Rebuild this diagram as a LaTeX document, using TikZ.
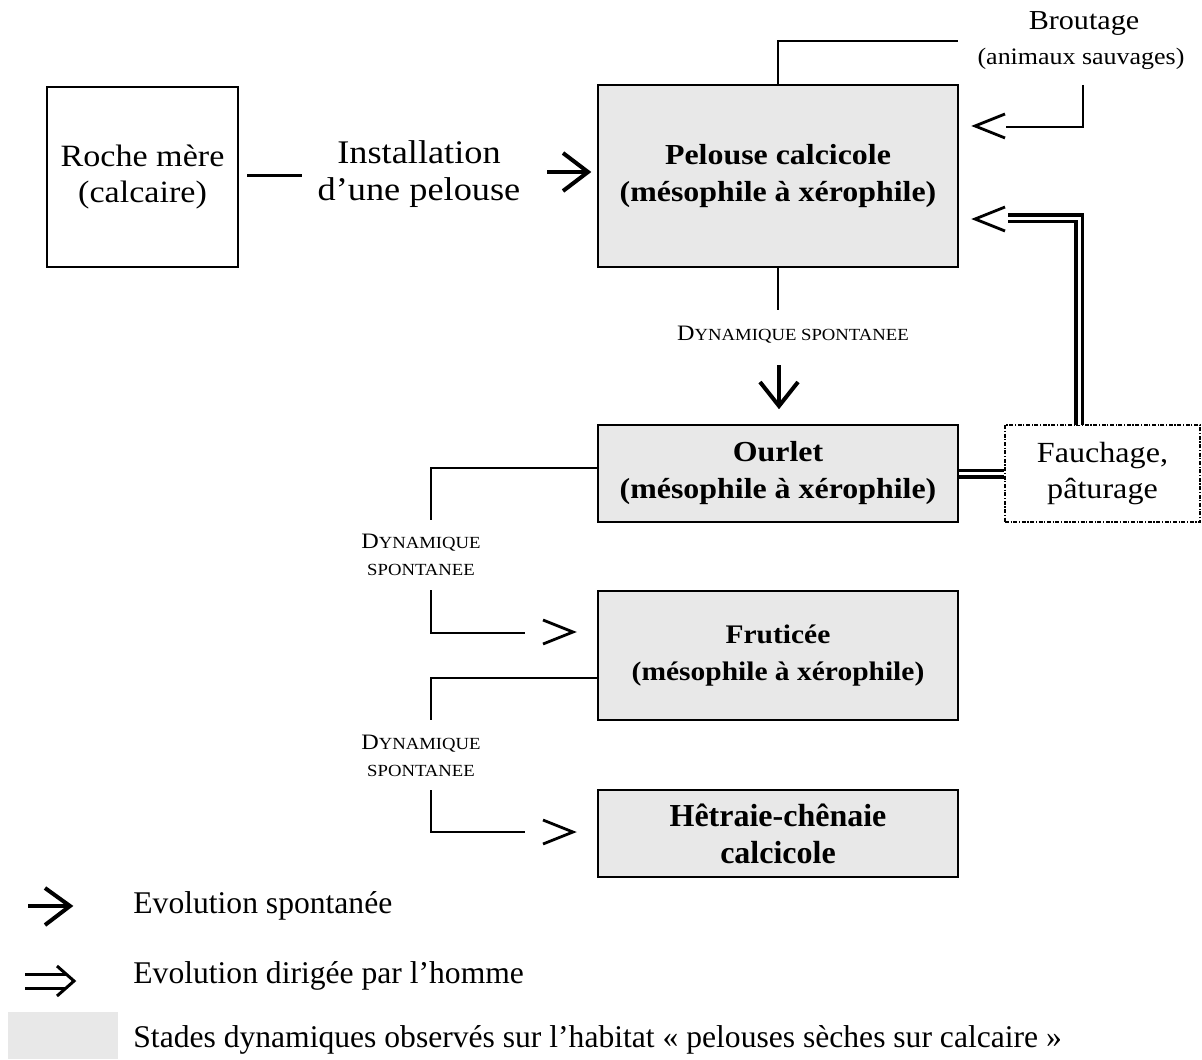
\documentclass[tikz,border=0pt]{standalone}
\usepackage{fontspec}
\setmainfont{Liberation Serif}
\newfontfamily\wf{Liberation Serif}[FakeStretch=1.1]
\definecolor{boxgray}{RGB}{232,232,232}
\newcommand\Dyn{{\fontsize{11}{13.5}\selectfont D}YNAMIQUE}
\tikzset{
  stage/.style={draw, line width=1pt, fill=boxgray, minimum width=180pt, align=center, inner sep=0pt, font=\wf\bfseries\fontsize{14.5}{18.5}\selectfont},
  plainbox/.style={draw, line width=1pt, fill=white, align=center, inner sep=0pt, font=\wf\fontsize{15.5}{18}\selectfont},
  conn/.style={line width=1pt},
  dbl/.style={double=white, double distance=1.5pt, line width=1.75pt},
  openhead/.style={line width=1.4pt},
  bighead/.style={line width=2pt},
  lbl/.style={align=center, inner sep=0pt, font=\wf\fontsize{15.5}{18}\selectfont},
  dyn/.style={align=center, inner sep=0pt, font=\wf\fontsize{8.5}{13.5}\selectfont},
  legend/.style={anchor=west, inner sep=0pt, font=\fontsize{15.8}{18}\selectfont},
}
\begin{document}
\begin{tikzpicture}[x=0.5pt, y=-0.5pt]
\useasboundingbox (0,0) rectangle (1202,1059);

% boxes
\node[plainbox, minimum width=95.5pt, minimum height=90pt] (roche) at (142.5,177) {Roche mère\\(calcaire)};
\node[stage, minimum height=91pt] (pel) at (778,176) {Pelouse calcicole\\(mésophile à xérophile)};
\node[stage, minimum height=48.5pt] (ourlet) at (778,473.5) {Ourlet\\(mésophile à xérophile)};
\node[stage, minimum height=64.5pt, font=\wf\bfseries\fontsize{13.4}{18.5}\selectfont] (frut) at (778,655.5) {Fruticée\\(mésophile à xérophile)};
\node[stage, minimum height=43.5pt, font=\bfseries\fontsize{16}{18.5}\selectfont] (hetre) at (778,833.5) {Hêtraie-chênaie\\calcicole};
\node[plainbox, draw, dash pattern=on 2pt off 0.8pt on 0.6pt off 0.8pt, minimum width=97.5pt, minimum height=48.5pt, font=\wf\fontsize{14.6}{18}\selectfont] (fauch) at (1102.5,473.5) {Fauchage,\\pâturage};

% Roche -> Pelouse
\coordinate (d1) at (247,176);
\coordinate (d2) at (302,176);
\draw[line width=1.5pt] (d1) -- (d2);
\node[lbl, font=\wf\fontsize{16.5}{18.5}\selectfont] (inst) at (419,174) {Installation\\d’une pelouse};
\coordinate (a1) at (547,172);
\coordinate (a1t) at (588,172);
\draw[bighead] (a1) -- (a1t);
\draw[bighead] (563,153) -- (a1t) -- (563,191);

% Broutage
\node[inner sep=0pt, font=\wf\fontsize{13.7}{16}\selectfont] (brout) at (1084,23) {Broutage};
\node[inner sep=0pt, font=\wf\fontsize{11.8}{14}\selectfont] (anim) at (1081,59) {(animaux sauvages)};
\coordinate (bt) at (958,41);
\draw[conn] (pel.north) |- (bt);
\coordinate (b1) at (1083,85);
\coordinate (b2) at (1006,127);
\draw[conn] (b1) |- (b2);
\coordinate (h1) at (975,126);
\draw[openhead] (1005,114) -- (h1) -- (1005,138);

% Fauchage -> Pelouse (double)
\coordinate (f1) at (1079,425);
\coordinate (f2) at (1008,218);
\draw[dbl] (f1) |- (f2);
\coordinate (h2) at (975,219);
\draw[openhead] (1005,207) -- (h2) -- (1005,231);
\draw[dbl] (ourlet.east) -- (fauch.west);

% Pelouse -> Ourlet
\coordinate (p1) at (778,310);
\draw[conn] (pel.south) -- (p1);
\node[dyn] (dyn1) at (793,335) {\Dyn{} SPONTANEE};
\coordinate (v1) at (779,365);
\coordinate (v1t) at (779,406);
\draw[bighead] (v1) -- (v1t);
\draw[bighead] (760,382) -- (v1t) -- (798,382);

% Ourlet -> Fruticee
\coordinate (o1) at (431,520);
\draw[conn] ([yshift=2.75pt]ourlet.west) -| (o1);
\node[dyn] (dyn2) at (421,555) {\Dyn\\SPONTANEE};
\coordinate (o2) at (431,590);
\coordinate (o3) at (525,633);
\draw[conn] (o2) |- (o3);
\coordinate (h3) at (573,632);
\draw[openhead] (543,620) -- (h3) -- (543,644);

% Fruticee -> Hetraie
\coordinate (r1) at (431,720);
\draw[conn] ([yshift=-11.25pt]frut.west) -| (r1);
\node[dyn] (dyn3) at (421,756) {\Dyn\\SPONTANEE};
\coordinate (r2) at (431,790);
\coordinate (r3) at (525,832);
\draw[conn] (r2) |- (r3);
\coordinate (h4) at (573,832);
\draw[openhead] (543,820) -- (h4) -- (543,844);

% legend
\coordinate (l1) at (28,906);
\coordinate (l1t) at (70,906);
\draw[bighead] (l1) -- (l1t);
\draw[bighead] (45,888) -- (l1t) -- (45,925);
\node[legend] (leg1) at (133,906) {Evolution spontanée};
\coordinate (l2t) at (74,981);
\draw[line width=1.5pt] (25,974) -- (66,974);
\draw[line width=1.5pt] (25,988) -- (66,988);
\draw[line width=1.5pt] (57,966) -- (l2t) -- (57,996);
\node[legend] (leg2) at (133,976) {Evolution dirigée par l’homme};
\fill[boxgray] (8,1012) rectangle (118,1059);
\node[legend] (leg3) at (133,1040) {Stades dynamiques observés sur l’habitat « pelouses sèches sur calcaire »};
\end{tikzpicture}
\end{document}
